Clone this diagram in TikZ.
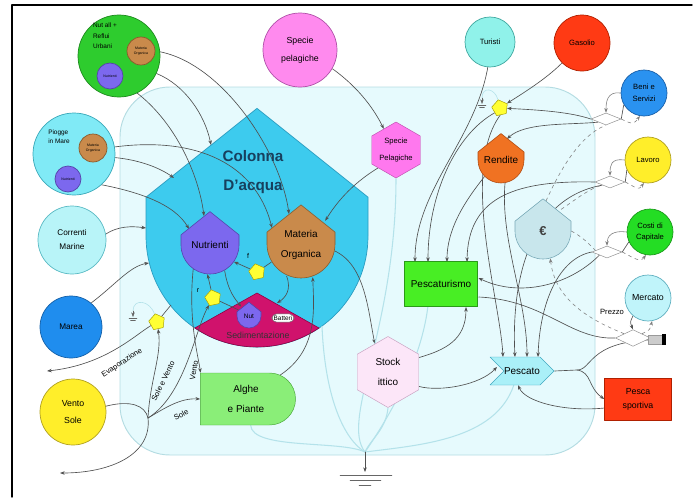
\documentclass[tikz,border=0pt]{standalone}
\usepackage{fontspec}
\setmainfont{Liberation Sans}
\usetikzlibrary{shapes.geometric,shapes.misc,shapes.symbols,arrows.meta,positioning}
\pgfdeclarelayer{back}
\pgfdeclarelayer{lines}
\pgfsetlayers{back,lines,main}
% colours
\definecolor{bgfill}{HTML}{E6FAFD}
\definecolor{bgline}{HTML}{B4DCE2}
\definecolor{colfill}{HTML}{3DCBEE}
\definecolor{colline}{HTML}{2A9CC0}
\definecolor{coltext}{HTML}{17405E}
\definecolor{nutfill}{HTML}{7C68EE}
\definecolor{nutline}{HTML}{5544AA}
\definecolor{mofill}{HTML}{C98A4B}
\definecolor{moline}{HTML}{8A5A2A}
\definecolor{sedfill}{HTML}{D0126C}
\definecolor{sedline}{HTML}{900040}
\definecolor{refluifill}{HTML}{2ECC2E}
\definecolor{refluiline}{HTML}{1E8A1E}
\definecolor{pioggefill}{HTML}{80EAF6}
\definecolor{pioggeline}{HTML}{3AA8B8}
\definecolor{corrfill}{HTML}{B8F4F8}
\definecolor{corrline}{HTML}{5ABAC4}
\definecolor{mareafill}{HTML}{1F8DEE}
\definecolor{marealine}{HTML}{1460A8}
\definecolor{ventofill}{HTML}{FFEE2A}
\definecolor{ventoline}{HTML}{B0A020}
\definecolor{spfill}{HTML}{FF8AEE}
\definecolor{spline}{HTML}{B050A8}
\definecolor{turfill}{HTML}{90F2EA}
\definecolor{turline}{HTML}{40A8A0}
\definecolor{gasfill}{HTML}{FF3A14}
\definecolor{gasline}{HTML}{B02000}
\definecolor{benifill}{HTML}{2A92F0}
\definecolor{beniline}{HTML}{1A60A8}
\definecolor{costfill}{HTML}{24DD24}
\definecolor{costline}{HTML}{1A9A1A}
\definecolor{mercfill}{HTML}{C0F4FA}
\definecolor{mercline}{HTML}{60B0C0}
\definecolor{rendfill}{HTML}{F07222}
\definecolor{rendline}{HTML}{B04A10}
\definecolor{eurofill}{HTML}{C8E6EC}
\definecolor{euroline}{HTML}{7AAAB8}
\definecolor{ptfill}{HTML}{48EE24}
\definecolor{ptline}{HTML}{2A9A18}
\definecolor{pcfill}{HTML}{AAF0F8}
\definecolor{pcline}{HTML}{40A8C0}
\definecolor{stockfill}{HTML}{FCE6F8}
\definecolor{stockline}{HTML}{C8A0C0}
\definecolor{hexfill}{HTML}{FF78EE}
\definecolor{hexline}{HTML}{C050B0}
\definecolor{alghefill}{HTML}{8AEE78}
\definecolor{algheline}{HTML}{48A838}
\definecolor{valvefill}{HTML}{FFFF33}
\definecolor{valveline}{HTML}{A8A000}
\definecolor{flowc}{HTML}{505050}
\definecolor{palec}{HTML}{B4E2EA}
\begin{document}
\begin{tikzpicture}[line join=round,line cap=round,>={Stealth[length=4pt,width=3pt]},x=0.03cm,y=0.03cm]
\tikzset{
  shield/.pic={
    \path[pic actions] (0,1.15)--(1,0.35)--(1,0) arc(0:-180:1)--(-1,0.35)--cycle;
  },
  ball/.style 2 args={circle,fill=#1fill,draw=#1line,line width=0.6pt,minimum size=#2,inner sep=0pt,align=center,font=\fontsize{8.5}{15}\selectfont},
  tag/.style={circle,inner sep=0pt,align=center,font=\fontsize{8.5}{17}\selectfont},
  lbl/.style={align=center,font=\fontsize{8.5}{17}\selectfont},
  small/.style={font=\fontsize{6.5}{10}\selectfont},
  tiny/.style={font=\fontsize{3}{3.6}\selectfont},
  side/.style={font=\fontsize{6.5}{7}\selectfont,inner sep=0pt},
  valve/.style={regular polygon,regular polygon sides=5,fill=valvefill,draw=valveline,minimum size=0.5cm,inner sep=0pt,rotate=12},
  conv/.style={diamond,draw=black!45,fill=white,minimum width=0.9cm,minimum height=0.36cm,inner sep=0pt,line width=0.4pt},
  flow/.style={->,draw=flowc,line width=0.55pt},
  link/.style={draw=flowc,line width=0.55pt},
  dflow/.style={->,draw=black!50,dashed,line width=0.5pt},
  dlink/.style={draw=black!50,dashed,line width=0.5pt},
  pale/.style={draw=palec,line width=0.9pt},
}
\useasboundingbox (0,0) rectangle (695,-497);

% background and water column
\begin{pgfonlayer}{back}
\draw[draw=bgline,fill=bgfill,line width=0.8pt,rounded corners=1.5cm] (120,-87) rectangle (595,-455);
\path (257,-236) pic[fill=colfill,draw=colline,line width=0.6pt,scale=111]{shield};
\filldraw[fill=sedfill,draw=sedline,line width=0.5pt] (319,-328) arc(-56:-124:111) -- (257,-293) -- cycle;
\end{pgfonlayer}
\draw[line width=1.2pt] (12,-497) -- (12,-5) -- (692,-5);
\node[font=\fontsize{13}{24}\selectfont\bfseries,text=coltext,align=center] (coltxt) at (253,-172) {Colonna\\D'acqua};
\node[font=\fontsize{7.5}{8}\selectfont,text=black!80] (sedtxt) at (258,-335) {Sedimentazione};
\coordinate (colA) at (211,-145);
\coordinate (colB) at (174,-178);
\coordinate (colC) at (146,-228);
\coordinate (colD) at (149,-263);
\coordinate (colE) at (171,-305);
\coordinate (colF) at (322,-326);
\coordinate (sedA) at (277,-303);

% shields
\path (210,-245) pic[fill=nutfill,draw=nutline,line width=0.5pt,scale=29]{shield};
\node[tag,minimum size=1.74cm] (nutr) at (210,-245) {Nutrienti};
\path (301,-244) pic[fill=mofill,draw=moline,line width=0.5pt,scale=34]{shield};
\node[tag,minimum size=2.04cm] (mat) at (301,-245) {Materia\\Organica};
\path (249,-316) pic[fill=nutfill,draw=nutline,line width=0.5pt,scale=12]{shield};
\node[tag,minimum size=0.72cm,font=\fontsize{5.5}{6}\selectfont] (nut) at (249,-316) {Nut};
\node[draw=black!60,fill=white,rounded corners=4pt,font=\fontsize{5.5}{6}\selectfont,inner sep=1.5pt] (batt) at (283,-318) {Batteri};
\path (501,-160) pic[fill=rendfill,draw=rendline,line width=0.5pt,scale=23]{shield};
\node[tag,minimum size=1.38cm] (rend) at (501,-160) {Rendite};
\path (543,-231) pic[fill=eurofill,draw=euroline,line width=0.5pt,scale=28]{shield};
\node[tag,minimum size=1.68cm,font=\fontsize{11}{12}\selectfont\bfseries,text=black!75] (euro) at (543,-231) {€};
\coordinate (nutTop) at (204,-216);
\coordinate (nutL) at (189,-229);
\coordinate (matTop) at (289,-214);
\coordinate (matL) at (272,-228);
\coordinate (rendTop) at (507,-139);
\coordinate (euroTop) at (546,-201);

% circles
\node[ball={reflui}{2.46cm}] (reflui) at (119,-56) {};
\node[small,align=left,font=\fontsize{5.5}{9}\selectfont] (refluitxt) at (105,-36) {Nut all +\\Reflui\\Urbani};
\node[ball={mo}{0.84cm},tiny] (reflMO) at (141,-51) {Materia\\Organica};
\node[ball={nut}{0.78cm},tiny] (reflNu) at (110,-76) {Nutrienti};
\node[ball={piogge}{2.46cm}] (piogge) at (74,-154) {};
\node[align=left,font=\fontsize{5.5}{8}\selectfont] (pioggetxt) at (59,-137) {Piogge\\in Mare};
\node[ball={mo}{0.84cm},tiny] (pioMO) at (93,-148) {Materia\\Organica};
\node[ball={nut}{0.78cm},tiny] (pioNu) at (68,-179) {Nutrienti};
\node[ball={corr}{2.04cm},font=\fontsize{7}{12}\selectfont] (correnti) at (72,-240) {Correnti\\Marine};
\node[ball={marea}{1.86cm},font=\fontsize{7}{12}\selectfont] (marea) at (71,-327) {Marea};
\node[ball={vento}{1.98cm},font=\fontsize{7.5}{14}\selectfont] (vento) at (73,-412) {Vento\\Sole};
\node[ball={sp}{2.22cm},font=\fontsize{7.5}{15}\selectfont] (spcirc) at (300,-50) {Specie\\pelagiche};
\node[ball={tur}{1.5cm},font=\fontsize{6.5}{8}\selectfont] (turisti) at (490,-42) {Turisti};
\node[ball={gas}{1.68cm},font=\fontsize{6.5}{8}\selectfont] (gasolio) at (582,-43) {Gasolio};
\node[ball={beni}{1.38cm},small] (beni) at (644,-93) {Beni e\\Servizi};
\node[ball={vento}{1.38cm},small] (lavoro) at (648,-160) {Lavoro};
\node[ball={cost}{1.38cm},small] (costi) at (650,-232) {Costi di\\Capitale};
\node[ball={merc}{1.38cm},font=\fontsize{7.5}{8}\selectfont] (mercato) at (648,-298) {Mercato};

% hexagons and boxes
\node[regular polygon,regular polygon sides=6,shape border rotate=90,minimum size=1.68cm,inner sep=0pt,fill=hexfill,draw=hexline,align=center,font=\fontsize{6.5}{15}\selectfont] (sphex) at (396,-150) {Specie\\Pelagiche};
\node[regular polygon,regular polygon sides=6,shape border rotate=90,minimum size=2.13cm,inner sep=0pt,fill=stockfill,draw=stockline,lbl] (stock) at (388,-372) {Stock\\ittico};
\node[rectangle,minimum width=2.19cm,minimum height=1.35cm,fill=ptfill,draw=ptline,lbl] (pesctur) at (441,-284) {Pescaturismo};
\node[signal,signal from=west,signal to=east,minimum width=1.83cm,minimum height=0.84cm,inner sep=0pt,fill=pcfill,draw=pcline,lbl] (pescato) at (522,-371) {Pescato};
\node[rectangle,minimum width=2.01cm,minimum height=1.26cm,fill=gasfill,draw=gasline,lbl,font=\fontsize{7.5}{12}\selectfont] (sport) at (638,-399) {Pesca\\sportiva};
\node[rounded rectangle,rounded rectangle left arc=none,minimum width=3.09cm,minimum height=1.56cm,fill=alghefill,draw=algheline,lbl] (alghe) at (246,-399) {Alghe\\e Piante};
\coordinate (pt1) at (415,-262);
\coordinate (pt2) at (428,-262);
\coordinate (pt3) at (447,-262);
\coordinate (pt4) at (467,-262);
\coordinate (pte) at (478.5,-278);
\coordinate (ptr2) at (478.5,-297);
\coordinate (pts) at (466,-307);
\coordinate (pc1) at (503,-357);
\coordinate (pc2) at (515,-357);
\coordinate (pc3) at (527,-357);
\coordinate (pc4) at (538,-357);
\coordinate (pcL) at (497,-367);
\coordinate (pcB) at (518,-385);
\coordinate (pj) at (577,-370);

% valves, converters, sinks
\node[valve] (valveE) at (257,-272) {};
\node[valve] (valveR) at (213,-298) {};
\node[valve] (valveEv) at (157,-322) {};
\node[valve] (valveG) at (500,-108) {};
\node[side,font=\fontsize{6}{6}\selectfont] (flab) at (248,-256) {f};
\node[side,font=\fontsize{6}{6}\selectfont] (rlab) at (198,-291) {r};
\node[conv] (d1) at (606,-119) {};
\node[conv] (d2) at (610,-182) {};
\node[conv] (d3) at (607,-252) {};
\node[conv,minimum width=1.05cm,minimum height=0.5cm] (d4) at (633,-338) {};
\draw[fill=black!20,draw=black!40] (648,-335) rectangle (662,-344);
\fill (662,-334) rectangle (666,-345);
\coordinate (barL) at (648,-340);
\coordinate (sinkG) at (482,-98);
\coordinate (sinkEv) at (133,-311);
\coordinate (sink) at (365,-452);
\coordinate (evapOut) at (47,-371);
\coordinate (ventoOut) at (60,-473);
\coordinate (vj) at (148,-418);
\foreach \sx/\sy in {482/-98,133/-311}{
  \draw[->,black!60,line width=0.4pt] (\sx,\sy) -- (\sx,\sy-6);
  \draw[black!60,line width=0.4pt] (\sx-4,\sy-7) -- (\sx+4,\sy-7) (\sx-2.5,\sy-9) -- (\sx+2.5,\sy-9);
}
\draw[->,flowc,line width=0.5pt] (sink) -- (365,-472);
\draw[black!60,line width=0.4pt] (340,-475) -- (392,-475) (350,-480) -- (381,-480) (359,-485) -- (371,-485);

% labels on flows
\node[side,rotate=33] (evaplab) at (122,-363) {Evaporazione};
\node[side,rotate=64] (svlab) at (163,-381) {Sole e Vento};
\node[side,rotate=80] (vlab) at (194,-370) {Vento};
\node[side,rotate=28] (slab) at (181,-415) {Sole};
\node[side] (prezzo) at (612,-312) {Prezzo};

\begin{pgfonlayer}{lines}
% inflows to the water column
\draw[flow] (reflMO.east) .. controls (220,-60) and (280,-150) .. (matTop);
\draw[flow] (reflui.-25) .. controls (185,-85) and (205,-115) .. (colA);
\draw[flow] (reflNu.-30) .. controls (170,-110) and (198,-170) .. (nutTop);
\draw[flow] (pioMO.east) .. controls (190,-135) and (255,-160) .. (matL);
\draw[flow] (piogge.-5) .. controls (140,-160) and (160,-168) .. (colB);
\draw[flow] (pioNu.-10) .. controls (140,-190) and (175,-205) .. (nutL);
\draw[flow] (correnti.10) .. controls (118,-226) and (132,-226) .. (colC);
\draw[flow] (marea.50) .. controls (115,-285) and (130,-266) .. (colD);
\draw[link] (colE) -- (valveEv);
\draw[flow] (valveEv) .. controls (135,-335) and (105,-365) .. (evapOut);
\draw[pale,line width=0.5pt] (sinkEv) .. controls (133,-298) and (150,-300) .. (valveEv);
% sun and wind
\draw[link] (vento.10) .. controls (130,-400) and (145,-405) .. (vj);
\draw[flow] (vj) .. controls (152,-455) and (110,-473) .. (ventoOut);
\draw[flow] (vj) .. controls (150,-380) and (162,-355) .. (valveEv);
\draw[flow] (vj) .. controls (185,-395) and (195,-330) .. (valveR);
\draw[flow] (vj) .. controls (165,-408) and (180,-398) .. (alghe.west);
% inside the column
\draw[link] (nut.150) -- (valveR);
\draw[flow] (valveR) -- (nutr.-95);
\draw[link] (mat.-150) -- (valveE);
\draw[flow] (valveE) -- (nutr.-35);
\draw[flow] (mat.-115) .. controls (292,-290) and (285,-298) .. (sedA);
\draw[flow] (nutr.-60) .. controls (228,-292) and (236,-300) .. (nut.130);
\draw[flow] (nutr.-125) .. controls (188,-320) and (198,-355) .. (alghe.150);
\draw[flow] (alghe.35) .. controls (318,-350) and (314,-310) .. (mat.-70);
\draw[flow] (mat.-10) .. controls (365,-265) and (368,-310) .. (stock.115);
\draw[flow] (spcirc.-30) .. controls (355,-85) and (372,-105) .. (sphex.120);
\draw[flow] (sphex.-135) .. controls (350,-185) and (335,-205) .. (mat.45);
% losses to the sink
\draw[pale] (sphex.south) .. controls (396,-330) and (340,-420) .. (sink);
\draw[pale] (alghe.-80) .. controls (252,-450) and (340,-440) .. (sink);
\draw[pale] (stock.south) .. controls (386,-430) and (370,-440) .. (sink);
\draw[pale] (pescato.-120) .. controls (495,-440) and (420,-445) .. (sink);
\draw[pale] (colF) .. controls (325,-400) and (345,-440) .. (sink);
\draw[pale] (pesctur.-120) .. controls (420,-370) and (380,-430) .. (sink);
% economy
\draw[pale,line width=0.5pt] (sinkG) .. controls (482,-86) and (495,-88) .. (valveG);
\draw[flow] (gasolio.-135) .. controls (545,-80) and (520,-95) .. (valveG);
\draw[link] (beni.-150) -- (d1.east);
\draw[flow] (d1.west) .. controls (570,-112) and (540,-110) .. (valveG);
\draw[flow] (d1.south west) .. controls (570,-125) and (525,-122) .. (rendTop);
\draw[flow] (turisti.-95) .. controls (475,-140) and (415,-190) .. (pt1);
\draw[flow] (valveG.-150) .. controls (455,-135) and (428,-195) .. (pt2);
\draw[flow] (rend.-135) .. controls (470,-195) and (447,-225) .. (pt3);
\draw[link] (lavoro.-155) -- (d2.east);
\draw[flow] (d2.west) .. controls (510,-180) and (468,-200) .. (pt4);
\draw[flow] (valveG.-100) .. controls (460,-170) and (500,-300) .. (pc1);
\draw[flow] (d2.south west) .. controls (520,-200) and (512,-300) .. (pc2);
\draw[flow] (rend.-80) .. controls (500,-240) and (527,-300) .. (pc3);
\draw[link] (costi.-155) -- (d3.east);
\draw[flow] (d3.west) .. controls (560,-258) and (540,-300) .. (pc4);
\draw[flow] (d3.south west) .. controls (570,-285) and (520,-298) .. (pte);
\draw[flow] (stock.25) .. controls (445,-350) and (466,-340) .. (pts);
\draw[flow] (stock.-25) .. controls (440,-392) and (480,-385) .. (pcL);
\draw[link] (ptr2) .. controls (545,-300) and (570,-340) .. (d4.west);
\draw[link] (pescato.east) -- (pj);
\draw[link] (pj) .. controls (592,-370) and (588,-343) .. (barL);
\draw[flow] (pj) .. controls (592,-372) and (588,-388) .. (sport.west);
\draw[flow] (sport.-165) .. controls (565,-412) and (525,-402) .. (pcB);
% converters
\foreach \c/\d in {beni/d1,lavoro/d2,costi/d3}{
  \draw[->,draw=black!50,line width=0.5pt] (\c.west) .. controls +(-14,2) and +(0,10) .. (\d.north);
  \draw[dflow] (\d.east) .. controls +(12,-6) and +(-6,-8) .. (\c.-100);
}
\draw[flow] (mercato.-130) .. controls (630,-322) .. (d4.north);
\draw[dflow] (d4.north east) .. controls (650,-330) .. (mercato.-80);
\draw[dlink] (euroTop) .. controls (560,-170) and (580,-135) .. (d1.south);
\draw[dlink] (euro.50) .. controls (575,-200) and (590,-188) .. (d2.south west);
\draw[dlink] (euro.east) .. controls (585,-238) and (595,-250) .. (d3.south west);
\draw[dflow] (d4.north west) .. controls (590,-320) and (555,-300) .. (euro.-75);
\end{pgfonlayer}
\end{tikzpicture}
\end{document}
